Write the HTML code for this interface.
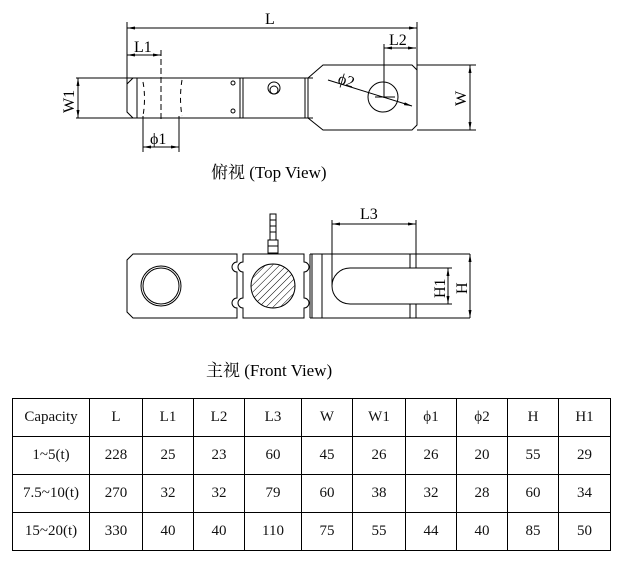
<!DOCTYPE html>
<html><head><meta charset="utf-8"><style>
body{margin:0;background:#fff;width:622px;height:563px;overflow:hidden;font-family:"Liberation Serif","Noto Serif CJK SC",serif}
svg{position:absolute;left:0;top:0}
table{position:absolute;left:12px;top:398px;border-collapse:collapse;font-size:15px;color:#111}
td{border:1.2px solid #000;text-align:center;padding:0;height:37px}
</style></head><body>
<svg width="622" height="563" viewBox="0 0 622 563" fill="none" stroke="#000" stroke-width="1">
<defs><pattern id="h" width="5" height="5" patternUnits="userSpaceOnUse" patternTransform="rotate(45)"><line x1="0" y1="0" x2="0" y2="5" stroke="#000" stroke-width="1"/></pattern>
<marker id="a" markerWidth="8" markerHeight="6" refX="8" refY="3" orient="auto-start-reverse"><path d="M0,1.5 L8,3 L0,4.5Z" fill="#000" stroke="none"/></marker></defs>
<!-- top view -->
<line x1="127" y1="28" x2="417" y2="28" marker-start="url(#a)" marker-end="url(#a)"/>
<line x1="127" y1="22" x2="127" y2="112"/><line x1="417" y1="22" x2="417" y2="75"/>
<line x1="127" y1="55" x2="161" y2="55" marker-start="url(#a)" marker-end="url(#a)"/>
<line x1="161" y1="50" x2="161" y2="120" stroke-dasharray="6,3"/>
<line x1="384" y1="48" x2="416" y2="48" marker-start="url(#a)" marker-end="url(#a)"/>
<line x1="384" y1="44" x2="384" y2="98"/>
<line x1="76" y1="78" x2="313" y2="78"/><line x1="76" y1="118" x2="313" y2="118"/>
<line x1="78" y1="78" x2="78" y2="118" marker-start="url(#a)" marker-end="url(#a)"/>
<path d="M133,78 L127,84 L127,112 L133,118"/>
<line x1="137" y1="78" x2="137" y2="118"/>
<path d="M143,82 Q146,98 143,116 M182,80 Q179,98 182,116" stroke-dasharray="5,4"/>
<circle cx="233" cy="83" r="2"/><circle cx="233" cy="111" r="2"/>
<line x1="240" y1="78" x2="240" y2="118"/><line x1="243" y1="78" x2="243" y2="118"/>
<line x1="305" y1="78" x2="305" y2="118"/><line x1="308" y1="78" x2="308" y2="118"/>
<circle cx="274" cy="88" r="6"/><circle cx="274" cy="90" r="4"/>
<path d="M308,78 L323,65 L412,65 L417,70 L417,125 L412,130 L323,130 L308,118"/>
<line x1="417" y1="65" x2="476" y2="65"/><line x1="417" y1="130" x2="476" y2="130"/>
<line x1="470" y1="65" x2="470" y2="130" marker-start="url(#a)" marker-end="url(#a)"/>
<circle cx="383" cy="97" r="15"/>
<line x1="375" y1="97" x2="395" y2="97"/>
<line x1="328" y1="80" x2="412" y2="106" marker-end="url(#a)"/>
<line x1="143" y1="116" x2="143" y2="152"/><line x1="179" y1="116" x2="179" y2="152"/>
<line x1="143" y1="147" x2="179" y2="147" marker-start="url(#a)" marker-end="url(#a)"/>
<g fill="#000" stroke="none" font-size="16">
<text x="265" y="24">L</text><text x="134" y="52">L1</text><text x="389" y="45">L2</text>
<text x="150" y="144">ϕ1</text><text x="337" y="83" transform="rotate(17 337 83)">ϕ2</text>
<text x="0" y="0" transform="translate(74,113) rotate(-90)">W1</text>
<text x="0" y="0" transform="translate(466,106) rotate(-90)">W</text>
<text x="211" y="178" font-size="17">俯视 (Top View)</text>
</g>
<!-- front view -->
<line x1="332" y1="224" x2="416" y2="224" marker-start="url(#a)" marker-end="url(#a)"/>
<line x1="332" y1="220" x2="332" y2="286"/><line x1="416" y1="220" x2="416" y2="268"/>
<path d="M133,254 L237,254 L237,262 A5,5 0 0 0 237,272 L237,298 A5,5 0 0 0 237,308 L237,318 L133,318 L127,312 L127,260 Z"/>
<path d="M243,254 L304,254 L304,262 A5,5 0 0 1 304,272 L304,298 A5,5 0 0 1 304,308 L304,318 L243,318 L243,308 A5,5 0 0 1 243,298 L243,272 A5,5 0 0 1 243,262 Z"/>
<line x1="310" y1="254" x2="310" y2="318"/><line x1="312" y1="254" x2="312" y2="318"/>
<line x1="310" y1="254" x2="470" y2="254"/><line x1="310" y1="318" x2="470" y2="318"/>
<line x1="322" y1="254" x2="322" y2="318"/>
<path d="M416,268 L350,268 A18,18 0 0 0 350,304 L416,304"/>
<line x1="410" y1="254" x2="410" y2="268"/><line x1="416" y1="254" x2="416" y2="268"/>
<line x1="410" y1="304" x2="410" y2="318"/><line x1="416" y1="304" x2="416" y2="318"/>
<line x1="416" y1="268" x2="452" y2="268"/><line x1="416" y1="304" x2="452" y2="304"/>
<line x1="448" y1="268" x2="448" y2="304" marker-start="url(#a)" marker-end="url(#a)"/>
<line x1="470" y1="254" x2="470" y2="318" marker-start="url(#a)" marker-end="url(#a)"/>
<circle cx="161" cy="286" r="20"/><circle cx="161" cy="286" r="18"/>
<circle cx="273" cy="286" r="22" fill="url(#h)"/>
<rect x="268" y="240" width="10" height="13"/><line x1="268" y1="246" x2="278" y2="246"/>
<rect x="270" y="214" width="6" height="26"/><line x1="270" y1="220" x2="276" y2="220"/><line x1="270" y1="226" x2="276" y2="226"/><line x1="270" y1="232" x2="276" y2="232"/>
<g fill="#000" stroke="none" font-size="16">
<text x="360" y="219">L3</text>
<text x="0" y="0" transform="translate(445,298) rotate(-90)">H1</text>
<text x="0" y="0" transform="translate(467,294) rotate(-90)">H</text>
<text x="206" y="376" font-size="17">主视 (Front View)</text>
</g>
</svg>
<table>
<tr><td style="width:76px">Capacity</td><td style="width:52px">L</td><td style="width:50px">L1</td><td style="width:50px">L2</td><td style="width:56px">L3</td><td style="width:50px">W</td><td style="width:52px">W1</td><td style="width:50px">ϕ1</td><td style="width:50px">ϕ2</td><td style="width:50px">H</td><td style="width:51px">H1</td></tr>
<tr><td>1~5(t)</td><td>228</td><td>25</td><td>23</td><td>60</td><td>45</td><td>26</td><td>26</td><td>20</td><td>55</td><td>29</td></tr>
<tr><td>7.5~10(t)</td><td>270</td><td>32</td><td>32</td><td>79</td><td>60</td><td>38</td><td>32</td><td>28</td><td>60</td><td>34</td></tr>
<tr><td>15~20(t)</td><td>330</td><td>40</td><td>40</td><td>110</td><td>75</td><td>55</td><td>44</td><td>40</td><td>85</td><td>50</td></tr>
</table>
</body></html>
